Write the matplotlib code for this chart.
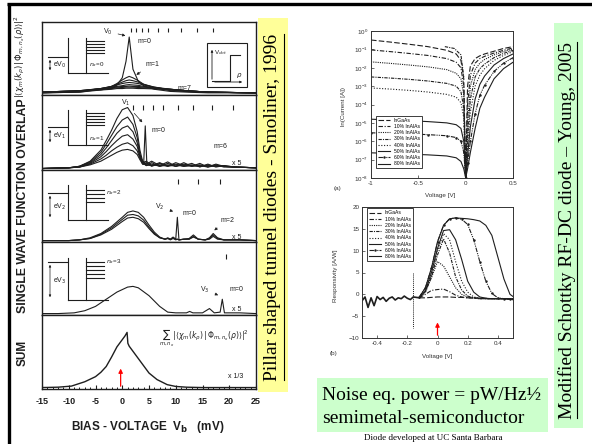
import matplotlib.pyplot as plt
from matplotlib.patches import Rectangle
import numpy as np

W, H = 592, 444
SANS = ['Liberation Sans', 'DejaVu Sans']
SERIF = ['Liberation Serif', 'DejaVu Serif']
plt.rcParams['font.family'] = SANS
plt.rcParams['mathtext.fontset'] = 'dejavusans'
INK = '#1e1e1e'

# ---------------- Smoliner 1996: overlap spectra vs bias (mV) ----------------
bias_ticks = [-15, -10, -5, 0, 5, 10, 15, 20, 25]

# panel V0 (n_x = 0), curves m = 0..7
v0_bias = [-15, -8, -4, -2, -1, 0, 0.7, 1.3, 2, 3, 4, 6, 9, 12, 16, 25]
v0_m = [
    [0.01, 0.02, 0.05, 0.08, 0.12, 0.22, 0.45, 0.79, 0.34, 0.17, 0.11, 0.06, 0.03, 0.02, 0.01, 0.01],
    [0.01, 0.02, 0.06, 0.10, 0.14, 0.19, 0.22, 0.24, 0.22, 0.18, 0.13, 0.08, 0.04, 0.03, 0.02, 0.01],
    [0.01, 0.03, 0.07, 0.10, 0.13, 0.16, 0.18, 0.19, 0.18, 0.16, 0.13, 0.09, 0.05, 0.03, 0.02, 0.01],
    [0.02, 0.03, 0.07, 0.10, 0.12, 0.14, 0.15, 0.155, 0.15, 0.14, 0.12, 0.09, 0.06, 0.04, 0.02, 0.01],
    [0.02, 0.04, 0.07, 0.09, 0.10, 0.11, 0.12, 0.125, 0.12, 0.115, 0.10, 0.08, 0.06, 0.04, 0.02, 0.01],
    [0.02, 0.04, 0.07, 0.08, 0.09, 0.10, 0.10, 0.105, 0.10, 0.10, 0.09, 0.08, 0.06, 0.04, 0.02, 0.01],
    [0.02, 0.04, 0.06, 0.07, 0.08, 0.085, 0.09, 0.09, 0.09, 0.085, 0.08, 0.07, 0.06, 0.04, 0.02, 0.01],
    [0.02, 0.04, 0.05, 0.06, 0.07, 0.07, 0.075, 0.075, 0.075, 0.07, 0.07, 0.065, 0.055, 0.04, 0.02, 0.01],
]
v0_marks = [1.7, 2.6, 3.7, 4.9, 6.7, 8.6, 11.0, 14.0, 16.9]

# panel V1 (n_x = 1)
v1_bias = [-15, -10, -8, -6, -4, -3, -2, -1, 0, 1, 2, 2.8, 3.3, 3.8, 4.5, 5.5, 7, 8.5,
           10, 11.5, 13, 14.5, 16, 17.5, 19, 21, 25]
v1_m = [
    [0, 0.01, 0.03, 0.10, 0.25, 0.38, 0.52, 0.68, 0.80, 0.83, 0.72, 0.50, 0.25, 0.10, 0.06, 0.10, 0.04, 0.09, 0.03, 0.08, 0.03, 0.07, 0.02, 0.06, 0.03, 0.02, 0.01],
    [0, 0.01, 0.03, 0.09, 0.22, 0.33, 0.45, 0.57, 0.66, 0.70, 0.60, 0.42, 0.20, 0.08, 0.10, 0.04, 0.08, 0.03, 0.08, 0.04, 0.07, 0.02, 0.06, 0.02, 0.04, 0.02, 0.01],
    [0, 0.01, 0.03, 0.08, 0.19, 0.28, 0.38, 0.48, 0.55, 0.58, 0.50, 0.35, 0.18, 0.10, 0.04, 0.08, 0.03, 0.07, 0.03, 0.06, 0.04, 0.05, 0.03, 0.05, 0.02, 0.02, 0.01],
    [0, 0.01, 0.02, 0.07, 0.16, 0.23, 0.31, 0.38, 0.44, 0.46, 0.40, 0.30, 0.16, 0.06, 0.08, 0.03, 0.07, 0.04, 0.06, 0.03, 0.05, 0.03, 0.05, 0.03, 0.04, 0.02, 0.01],
    [0, 0.01, 0.02, 0.06, 0.13, 0.18, 0.24, 0.29, 0.33, 0.35, 0.31, 0.24, 0.14, 0.08, 0.04, 0.06, 0.03, 0.05, 0.03, 0.05, 0.03, 0.04, 0.02, 0.04, 0.03, 0.02, 0.01],
    [0, 0.01, 0.02, 0.05, 0.10, 0.14, 0.18, 0.22, 0.25, 0.26, 0.24, 0.19, 0.12, 0.06, 0.05, 0.04, 0.05, 0.03, 0.05, 0.03, 0.04, 0.03, 0.04, 0.03, 0.03, 0.02, 0.01],
]
v1_spike_bias = [4.0, 4.3, 4.6]
v1_spike = [0.06, 0.58, 0.06]
v1_marks = [2.1, 3.9, 5.8, 7.7, 10.5, 13.3, 16.8, 20.7]

# panel V2 (n_x = 2)
v2_bias = [-15, -10, -8, -6, -4, -2, 0, 1, 2, 3, 4, 5, 6, 7, 8, 8.5, 9, 9.5, 10, 10.3, 10.6,
           11.5, 12.5, 13.3, 14.2, 15.5, 16.3, 17, 17.8, 19, 22, 25]
v2_m = [
    [0, 0, 0.01, 0.04, 0.10, 0.20, 0.33, 0.40, 0.42, 0.40, 0.33, 0.22, 0.12, 0.05, 0.02, 0.04, 0.02, 0.05, 0.02, 0.33, 0.01, 0.02, 0.03, 0.08, 0.02, 0.01, 0.04, 0.10, 0.04, 0.01, 0.01, 0],
    [0, 0, 0.01, 0.03, 0.09, 0.18, 0.30, 0.36, 0.37, 0.35, 0.29, 0.19, 0.10, 0.04, 0.02, 0.03, 0.02, 0.04, 0.02, 0.02, 0.01, 0.02, 0.02, 0.06, 0.02, 0.01, 0.03, 0.08, 0.03, 0.01, 0.01, 0],
    [0, 0, 0.01, 0.03, 0.08, 0.16, 0.27, 0.32, 0.33, 0.31, 0.26, 0.17, 0.09, 0.04, 0.02, 0.03, 0.01, 0.03, 0.01, 0.02, 0.01, 0.02, 0.02, 0.05, 0.02, 0.01, 0.02, 0.06, 0.02, 0.01, 0.01, 0],
]
v2_marks = [10.5, 14.2, 18.3]

# panel V3 (n_x = 3)
v3_bias = [-15, -12, -9, -7, -5, -3, -1, 1, 2, 3, 5, 7, 8.5, 10, 12, 12.6, 13.2, 15, 16.3,
           17.2, 18.3, 18.7, 19.1, 20, 22, 25]
v3_m = [0, 0, 0.01, 0.04, 0.10, 0.20, 0.30, 0.37, 0.38, 0.36, 0.25, 0.10, 0.02, 0.01, 0.01,
        0.03, 0.01, 0.01, 0.07, 0.01, 0.02, 0.20, 0.01, 0.01, 0.01, 0]
v3_marks = [19.3]

# panel SUM
sum_bias = [-15, -12, -9.5, -7, -5, -4, -3, -2, -1, 0, 0.5, 0.9, 1.05, 1.3, 2, 3, 4, 5,
            6.5, 8.4, 10, 12, 15, 20, 25]
sum_val = [0, 0.005, 0.02, 0.08, 0.15, 0.21, 0.29, 0.42, 0.56, 0.66, 0.71, 0.76, 0.61,
           0.57, 0.50, 0.40, 0.30, 0.20, 0.11, 0.04, 0.015, 0.005, 0, 0, 0]

# ---------------- Young 2005: I-V and responsivity ----------------
comps = ['InGaAs', '10% InAlAs', '20% InAlAs', '30% InAlAs', '40% InAlAs',
         '50% InAlAs', '60% InAlAs', '80% InAlAs']

iv_v = [-1, -0.8, -0.6, -0.4, -0.2, -0.1, -0.05, -0.02, 0,
        0.02, 0.05, 0.1, 0.15, 0.2, 0.3, 0.4, 0.5]
iv_log = [
    [-0.49, -0.60, -0.72, -0.85, -1.05, -1.25, -1.6, -2.6, -8, -3.0, -1.9, -1.5, -1.35, -1.25, -1.10, -0.95, -0.85],
    [-1.03, -1.12, -1.22, -1.33, -1.50, -1.70, -2.0, -3.0, -8, -4.0, -2.4, -1.75, -1.50, -1.38, -1.20, -1.05, -0.92],
    [-1.68, -1.76, -1.85, -1.95, -2.10, -2.30, -2.6, -3.5, -8, -5.0, -3.0, -2.10, -1.75, -1.55, -1.30, -1.12, -0.98],
    [-2.50, -2.56, -2.63, -2.72, -2.85, -3.00, -3.3, -4.2, -8, -5.8, -3.7, -2.50, -2.05, -1.80, -1.45, -1.22, -1.05],
    [-3.10, -3.16, -3.23, -3.32, -3.45, -3.60, -3.9, -4.7, -8, -6.3, -4.4, -3.00, -2.40, -2.05, -1.60, -1.33, -1.12],
    [-4.80, -4.84, -4.88, -4.93, -5.00, -5.10, -5.3, -6.0, -8, -6.8, -5.2, -3.70, -2.90, -2.45, -1.85, -1.50, -1.25],
    [-5.54, -5.57, -5.60, -5.64, -5.70, -5.80, -6.0, -6.6, -8, -7.2, -6.0, -4.50, -3.50, -2.95, -2.20, -1.75, -1.45],
    [-6.63, -6.66, -6.70, -6.74, -6.80, -6.90, -7.1, -7.5, -8, -7.5, -6.6, -5.30, -4.20, -3.60, -2.60, -2.05, -1.70],
]
iv_extra_v = [-0.22, -0.12, -0.05, -0.02]
iv_extra_log = [-0.85, -0.95, -1.3, -2.5]

resp_noise_v = [-0.5, -0.48, -0.46, -0.44, -0.42, -0.4, -0.38, -0.36, -0.34, -0.32, -0.3,
                -0.28, -0.26, -0.24, -0.22, -0.2, -0.18, -0.16, -0.14, -0.12]
resp_noise = [-1.5, -0.6, -3.0, -0.8, -2.6, -0.5, -1.2, -0.7, -1.6, -0.9, -0.6, -1.3,
              -0.8, -1.0, -0.4, -0.9, -1.2, -0.6, -0.7, -0.8]
resp_v = [-0.12, -0.08, -0.04, 0, 0.04, 0.08, 0.12, 0.16, 0.2, 0.24, 0.28, 0.32, 0.36,
          0.4, 0.44, 0.48, 0.5]
resp = [
    [-0.8, -0.8, -0.7, -0.6, -0.6, -0.6, -0.7, -0.7, -0.8, -0.8, -0.9, -0.9, -1.0, -1.0, -1.0, -1.1, -1.1],
    [-0.8, 0.0, 0.9, 1.1, 1.2, 0.6, -0.2, -0.6, -0.8, -0.9, -1.0, -1.0, -1.0, -1.0, -1.0, -1.0, -1.0],
    [-0.8, 0.5, 3.8, 7.5, 6.5, 4.0, 1.5, 0.0, -0.6, -0.8, -0.9, -1.0, -1.0, -1.0, -1.0, -1.0, -1.0],
    [-0.7, 0.6, 4.0, 9.0, 12.7, 9.5, 4.0, 1.0, -0.4, -0.8, -1.0, -1.0, -1.0, -1.0, -1.0, -1.0, -1.0],
    [-0.7, 0.8, 4.5, 10.0, 13.9, 12.5, 7.5, 3.0, 0.5, -0.6, -0.9, -1.0, -1.0, -1.0, -1.0, -1.1, -1.1],
    [-0.7, 0.8, 5.0, 10.5, 14.6, 14.8, 12.5, 8.0, 3.0, 0.5, -0.6, -0.9, -1.0, -1.0, -1.0, -1.1, -1.1],
    [-0.6, 1.5, 6.0, 12.0, 15.8, 17.3, 17.5, 17.2, 16.0, 12.5, 7.5, 3.0, 0.2, -0.8, -1.0, -1.1, -1.1],
    [-0.6, 1.5, 6.0, 12.0, 15.8, 17.3, 17.5, 17.4, 17.3, 17.1, 16.8, 15.8, 13.5, 8.5, 3.5, 0.0, -0.5],
]
resp_jump_v = [-0.16, -0.16]
resp_jump = [4.8, -7.7]

styles = [(0, (5, 2)), (0, (4, 1.5, 1, 1.5)), (0, (1, 1)), (0, (3, 1, 1, 1)),
          (0, (1, 1.5)), '-', (0, (4, 1, 1, 1, 1, 1)), '-']
marks = ['', '', '', '', '', '', '.', '']


def rect(x0, y0, x1, y1):
    return [x0 / W, 1 - y1 / H, (x1 - x0) / W, (y1 - y0) / H]


fig = plt.figure(figsize=(W / 100, H / 100), dpi=100)

# ---------------- left figure: five stacked panels ----------------
panel_y = [22, 95, 170, 242, 315, 389]
axs = []
for i in range(5):
    ax = fig.add_axes(rect(42, panel_y[i], 256, panel_y[i + 1]))
    ax.set_xlim(-15, 25)
    ax.set_ylim(-0.02, 1)
    ax.set_xticks([])
    ax.set_yticks([])
    for s in ax.spines.values():
        s.set_linewidth(1.0)
        s.set_color(INK)
    axs.append(ax)

kw = dict(color=INK, lw=0.8)
for y in v0_m:
    axs[0].plot(v0_bias, y, **kw)
axs[0].vlines(v0_marks, 0.86, 0.92, color=INK, lw=0.8)
for y in v1_m:
    axs[1].plot(v1_bias, y, **kw)
axs[1].plot(v1_spike_bias, v1_spike, **kw)
axs[1].vlines(v1_marks, 0.80, 0.87, color=INK, lw=0.8)
for y in v2_m:
    axs[2].plot(v2_bias, y, **kw)
axs[2].vlines(v2_marks, 0.80, 0.87, color=INK, lw=0.8)
axs[3].plot(v3_bias, v3_m, **kw)
axs[3].vlines(v3_marks, 0.76, 0.83, color=INK, lw=0.8)
axs[4].plot(sum_bias, sum_val, color=INK, lw=1.0)

tf = dict(fontsize=5, color=INK)
ap = dict(arrowstyle='-|>', lw=0.5, color=INK, mutation_scale=4)
axs[0].annotate('V$_0$', xy=(1.1, 0.8), xytext=(-3.6, 0.84), arrowprops=ap, **tf)
axs[0].text(2.8, 0.71, 'm=0', **tf)
axs[0].annotate('m=1', xy=(2.2, 0.24), xytext=(4.3, 0.39), arrowprops=ap, **tf)
axs[0].text(10.4, 0.05, 'm=7', **tf)
axs[1].annotate('V$_1$', xy=(4.1, 0.6), xytext=(-0.3, 0.86), arrowprops=ap, **tf)
axs[1].text(5.5, 0.5, 'm=0', **tf)
axs[1].text(17.0, 0.28, 'm=6', **tf)
axs[1].text(20.6, 0.05, 'x 5', **tf)
axs[2].annotate('V$_2$', xy=(10.0, 0.4), xytext=(6.2, 0.45), arrowprops=ap, **tf)
axs[2].text(11.3, 0.36, 'm=0', **tf)
axs[2].annotate('m=2', xy=(16.8, 0.12), xytext=(18.3, 0.27), arrowprops=ap, **tf)
axs[2].text(20.6, 0.02, 'x 5', **tf)
axs[3].annotate('V$_3$', xy=(18.4, 0.24), xytext=(14.6, 0.31), arrowprops=ap, **tf)
axs[3].text(20.0, 0.31, 'm=0', **tf)
axs[3].text(20.6, 0.03, 'x 5', **tf)
axs[4].text(15.2, 0.68, r'$\sum_{m,n_x}|\langle\chi_m(k_\rho)\,|\,\Phi_{m,n_x}(\rho)\rangle|^2$',
            ha='center', va='center', fontsize=5.5, color=INK)
axs[4].text(19.8, 0.13, 'x 1/3', **tf)
axs[4].annotate('', xy=(-0.3, 0.3), xytext=(-0.3, -0.02),
                arrowprops=dict(arrowstyle='-|>', lw=0.9, color='red', mutation_scale=6))

bot = axs[4]
bot.set_xticks(bias_ticks)
bot.set_xticks(range(-15, 26), minor=True)
bot.tick_params(axis='x', which='major', direction='in', length=3, width=0.8,
                labelsize=6.5, pad=6, colors=INK)
bot.tick_params(axis='x', which='minor', direction='in', length=1.6, width=0.6)
bot.set_xticklabels([str(t) for t in bias_ticks], fontweight='bold')

# ---------------- right top: I-V ----------------
iv = fig.add_axes(rect(371, 31, 513, 178))
for k in range(len(comps)):
    iv.semilogy(iv_v, 10.0 ** np.array(iv_log[k]), color=INK, lw=0.8, ls=styles[k],
                marker=marks[k], ms=1.5, label=comps[k])
iv.semilogy(iv_extra_v, 10.0 ** np.array(iv_extra_log), color=INK, lw=0.8, ls=(0, (3, 1, 1, 1)))
iv.set_xlim(-1, 0.5)
iv.set_ylim(1e-8, 1)
iv.set_yticks([10.0 ** -k for k in range(9)])
iv.minorticks_off()
iv.set_xticks([-1, -0.5, 0, 0.5])
iv.set_xticklabels(['-1', '-0.5', '0', '0.5'])
iv.tick_params(direction='in', labelsize=4.5, length=2, width=0.5, pad=2, colors='#333333')
for s in iv.spines.values():
    s.set_linewidth(0.7)
    s.set_color('#333333')
iv.legend(loc='lower left', bbox_to_anchor=(0.035, 0.065), borderaxespad=0, fontsize=3.6,
          handlelength=2.4, labelspacing=0.25, borderpad=0.4, fancybox=False,
          edgecolor=INK, framealpha=1).get_frame().set_linewidth(0.6)

# ---------------- right bottom: responsivity ----------------
rs = fig.add_axes(rect(362, 207, 513, 338))
rs.plot(resp_noise_v, resp_noise, color=INK, lw=1.2)
for k in range(len(comps)):
    rs.plot(resp_v, resp[k], color=INK, lw=0.8, ls=styles[k], marker=marks[k], ms=1.5,
            label=comps[k])
rs.plot(resp_jump_v, resp_jump, color=INK, lw=0.7, ls=(0, (1, 1)))
rs.set_xlim(-0.5, 0.5)
rs.set_ylim(-10, 20)
rs.set_xticks([-0.4, -0.2, 0, 0.2, 0.4])
rs.set_xticklabels(['-0.4', '-0.2', '0', '0.2', '0.4'])
rs.set_yticks([-10, -5, 0, 5, 10, 15, 20])
rs.tick_params(direction='in', labelsize=4.5, length=2, width=0.5, pad=2, colors='#333333')
for s in rs.spines.values():
    s.set_linewidth(0.7)
    s.set_color('#333333')
rs.legend(loc='upper left', bbox_to_anchor=(0.03, 0.99), borderaxespad=0, fontsize=3.6,
          handlelength=2.4, labelspacing=0.25, borderpad=0.4, fancybox=False,
          edgecolor=INK, framealpha=1).get_frame().set_linewidth(0.6)
rs.annotate('', xy=(0, -5.8), xytext=(0, -10),
            arrowprops=dict(arrowstyle='-|>', lw=0.9, color='red', mutation_scale=6))

# ---------------- overlay in pixel units: frames, boxes, labels, sketches ----------------
ov = fig.add_axes([0, 0, 1, 1], zorder=10)
ov.set_xlim(0, W)
ov.set_ylim(H, 0)
ov.axis('off')

ov.plot([7, W], [4, 4], color='k', lw=2.4, solid_capstyle='butt')
ov.plot([9, 9], [3, H], color='k', lw=2.4, solid_capstyle='butt')
ov.add_patch(Rectangle((258, 18), 30, 374, fc='#ffff99', ec='none'))
ov.add_patch(Rectangle((554, 23), 29, 405, fc='#ccffcc', ec='none'))
ov.add_patch(Rectangle((317, 378), 231, 54, fc='#ccffcc', ec='none'))

t_left = ov.text(272.5, 207, 'Pillar shaped tunnel diodes - Smoliner, 1996', rotation=90,
                 ha='center', va='center', fontsize=14, family=SERIF)
t_right = ov.text(567.5, 230, 'Modified Schottky RF-DC diode \u2013 Young, 2005', rotation=90,
                  ha='center', va='center', fontsize=14, family=SERIF)
ov.text(322, 400, 'Noise eq. power = pW/Hz\u00bd', fontsize=14, family=SERIF, va='baseline')
ov.text(322, 423, 'semimetal-semiconductor', fontsize=14, family=SERIF, va='baseline')
ov.text(433, 438, 'Diode developed at UC Santa Barbara', fontsize=6.5, family=SERIF,
        ha='center', va='center')

# left figure axis labels
ov.text(23, 206, 'SINGLE WAVE FUNCTION OVERLAP', rotation=90, ha='center', va='center',
        fontsize=8.8, fontweight='bold', color=INK)
ov.text(23, 353, 'SUM', rotation=90, ha='center', va='center', fontsize=8.5,
        fontweight='bold', color=INK)
ov.text(20, 56, r'$|\langle\chi_m(k_\rho)\,|\,\Phi_{m,n_x}(\rho)\rangle|^2$', rotation=90,
        ha='center', va='center', fontsize=6, color=INK)
ov.text(148, 427, r'BIAS - VOLTAGE  V$_\mathbf{b}$   (mV)', ha='center', va='center',
        fontsize=8.5, fontweight='bold', color=INK)

# right figure axis labels
sm = dict(fontsize=4.5, color='#333333', ha='center', va='center')
ov.text(440, 195, 'Voltage [V]', **sm)
ov.text(343, 106, 'ln(Current [A])', rotation=90, **sm)
ov.text(338, 188, '(a)', **sm)
ov.text(437, 356, 'Voltage [V]', **sm)
ov.text(335, 276, 'Responsivity [A/W]', rotation=90, **sm)
ov.text(333, 353, '(b)', **sm)

# band sketches next to panels
lk = dict(color=INK, lw=0.8)
wells = [
    (57, 38, 73, [41, 44, 47, 50, 53], 'eV$_0$', '$n_x$=0', (89, 65)),
    (127, 110, 145, [113, 116, 119, 122, 125], 'eV$_1$', '$n_x$=1', (89, 139)),
    (193, 185, 220, [190, 194, 198, 202], 'eV$_2$', '$n_x$=2', (106, 193)),
    (262, 258, 300, [262, 266, 270, 274, 278], 'eV$_3$', '$n_x$=3', (106, 262)),
]
for y_step, y_top, y_base, lv, el, nl, npos in wells:
    ov.plot([48, 68], [y_step, y_step], **lk)
    ov.plot([68, 68], [y_top, y_base], **lk)
    ov.plot([68, 108], [y_base, y_base], **lk)
    ov.plot([86, 86], [y_top, y_base], **lk)
    for y in lv:
        ov.plot([86, 104], [y, y], **lk)
    ov.annotate('', xy=(50, y_step), xytext=(50, y_base),
                arrowprops=dict(arrowstyle='<|-|>', lw=0.5, color=INK, mutation_scale=3))
    ov.text(53, (y_step + y_base) / 2, el, fontsize=5, va='center', color=INK)
    ov.text(npos[0], npos[1], nl, fontsize=4.5, va='center', color=INK)

# inset: dot potential
ov.add_patch(Rectangle((207, 43), 40, 44, fill=False, ec=INK, lw=0.8))
ov.annotate('', xy=(212, 47), xytext=(212, 82),
            arrowprops=dict(arrowstyle='-|>', lw=0.6, color=INK, mutation_scale=3))
ov.annotate('', xy=(245, 82), xytext=(212, 82),
            arrowprops=dict(arrowstyle='-|>', lw=0.6, color=INK, mutation_scale=3))
ov.plot([212, 230, 230, 240], [81, 81, 55, 55], **lk)
ov.text(214, 53, 'V$_{dot}$', fontsize=4.5, va='center', color=INK)
ov.text(236, 76, r'$\rho$', fontsize=5, va='center', color=INK)

# underlines for the rotated captions
fig.canvas.draw()
rend = fig.canvas.get_renderer()
for t, xu in [(t_left, 283.5), (t_right, 577)]:
    bb = t.get_window_extent(rend)
    ov.plot([xu, xu], [H - bb.y1 + 1, H - bb.y0 - 1], color='k', lw=0.8)

fig.savefig('out.png', dpi=100)
